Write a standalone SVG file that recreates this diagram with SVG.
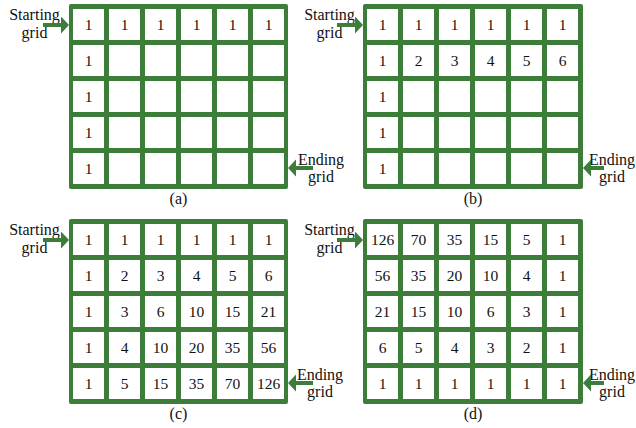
<svg xmlns="http://www.w3.org/2000/svg" width="636" height="428" viewBox="0 0 636 428" font-family="'Liberation Serif', 'Times New Roman', 'DejaVu Serif', serif">
<defs>
<style>
.bg{fill:#3c7d3a}
.c{fill:#ffffff}
.t{font-family:'Liberation Serif','Times New Roman','DejaVu Serif',serif;font-size:16px;fill:#111;text-anchor:middle}
.n{font-size:15.5px}
.arr{stroke:#3c7d3a;stroke-width:4;fill:none}
</style>
<marker id="ah" markerUnits="userSpaceOnUse" markerWidth="9" markerHeight="18" refX="0" refY="8.5" orient="auto">
<path d="M0,0 L8,8.5 L0,17 Z" fill="#3c7d3a"/>
</marker>
<g id="cells">
<rect class="c" x="4" y="5" width="31" height="31"/><rect class="c" x="40" y="5" width="31" height="31"/><rect class="c" x="76" y="5" width="31" height="31"/><rect class="c" x="112" y="5" width="31" height="31"/><rect class="c" x="148" y="5" width="31" height="31"/><rect class="c" x="184" y="5" width="31" height="31"/>
<rect class="c" x="4" y="41" width="31" height="31"/><rect class="c" x="40" y="41" width="31" height="31"/><rect class="c" x="76" y="41" width="31" height="31"/><rect class="c" x="112" y="41" width="31" height="31"/><rect class="c" x="148" y="41" width="31" height="31"/><rect class="c" x="184" y="41" width="31" height="31"/>
<rect class="c" x="4" y="77" width="31" height="31"/><rect class="c" x="40" y="77" width="31" height="31"/><rect class="c" x="76" y="77" width="31" height="31"/><rect class="c" x="112" y="77" width="31" height="31"/><rect class="c" x="148" y="77" width="31" height="31"/><rect class="c" x="184" y="77" width="31" height="31"/>
<rect class="c" x="4" y="113" width="31" height="31"/><rect class="c" x="40" y="113" width="31" height="31"/><rect class="c" x="76" y="113" width="31" height="31"/><rect class="c" x="112" y="113" width="31" height="31"/><rect class="c" x="148" y="113" width="31" height="31"/><rect class="c" x="184" y="113" width="31" height="31"/>
<rect class="c" x="4" y="149" width="31" height="31"/><rect class="c" x="40" y="149" width="31" height="31"/><rect class="c" x="76" y="149" width="31" height="31"/><rect class="c" x="112" y="149" width="31" height="31"/><rect class="c" x="148" y="149" width="31" height="31"/><rect class="c" x="184" y="149" width="31" height="31"/>
</g>
</defs>

<g id="grid-a">
<rect class="bg" x="69" y="4" width="219" height="185" rx="2"/>
<use href="#cells" x="69" y="4"/>
<g class="t n">
<text x="88.5" y="30">1</text><text x="124.5" y="30">1</text><text x="160.5" y="30">1</text><text x="196.5" y="30">1</text><text x="232.5" y="30">1</text><text x="268.5" y="30">1</text>
<text x="88.5" y="66">1</text>
<text x="88.5" y="102">1</text>
<text x="88.5" y="138">1</text>
<text x="88.5" y="174">1</text>
</g>
</g>

<g id="grid-b">
<rect class="bg" x="363" y="4" width="220" height="185" rx="2"/>
<use href="#cells" x="363" y="4"/>
<g class="t n">
<text x="382.5" y="30">1</text><text x="418.5" y="30">1</text><text x="454.5" y="30">1</text><text x="490.5" y="30">1</text><text x="526.5" y="30">1</text><text x="562.5" y="30">1</text>
<text x="382.5" y="66">1</text><text x="418.5" y="66">2</text><text x="454.5" y="66">3</text><text x="490.5" y="66">4</text><text x="526.5" y="66">5</text><text x="562.5" y="66">6</text>
<text x="382.5" y="102">1</text>
<text x="382.5" y="138">1</text>
<text x="382.5" y="174">1</text>
</g>
</g>

<g id="grid-c">
<rect class="bg" x="69" y="219" width="219" height="185" rx="2"/>
<use href="#cells" x="69" y="219"/>
<g class="t n">
<text x="88.5" y="245">1</text><text x="124.5" y="245">1</text><text x="160.5" y="245">1</text><text x="196.5" y="245">1</text><text x="232.5" y="245">1</text><text x="268.5" y="245">1</text>
<text x="88.5" y="281">1</text><text x="124.5" y="281">2</text><text x="160.5" y="281">3</text><text x="196.5" y="281">4</text><text x="232.5" y="281">5</text><text x="268.5" y="281">6</text>
<text x="88.5" y="317">1</text><text x="124.5" y="317">3</text><text x="160.5" y="317">6</text><text x="196.5" y="317">10</text><text x="232.5" y="317">15</text><text x="268.5" y="317">21</text>
<text x="88.5" y="353">1</text><text x="124.5" y="353">4</text><text x="160.5" y="353">10</text><text x="196.5" y="353">20</text><text x="232.5" y="353">35</text><text x="268.5" y="353">56</text>
<text x="88.5" y="389">1</text><text x="124.5" y="389">5</text><text x="160.5" y="389">15</text><text x="196.5" y="389">35</text><text x="232.5" y="389">70</text><text x="268.5" y="389">126</text>
</g>
</g>

<g id="grid-d">
<rect class="bg" x="363" y="219" width="220" height="185" rx="2"/>
<use href="#cells" x="363" y="219"/>
<g class="t n">
<text x="382.5" y="245">126</text><text x="418.5" y="245">70</text><text x="454.5" y="245">35</text><text x="490.5" y="245">15</text><text x="526.5" y="245">5</text><text x="562.5" y="245">1</text>
<text x="382.5" y="281">56</text><text x="418.5" y="281">35</text><text x="454.5" y="281">20</text><text x="490.5" y="281">10</text><text x="526.5" y="281">4</text><text x="562.5" y="281">1</text>
<text x="382.5" y="317">21</text><text x="418.5" y="317">15</text><text x="454.5" y="317">10</text><text x="490.5" y="317">6</text><text x="526.5" y="317">3</text><text x="562.5" y="317">1</text>
<text x="382.5" y="353">6</text><text x="418.5" y="353">5</text><text x="454.5" y="353">4</text><text x="490.5" y="353">3</text><text x="526.5" y="353">2</text><text x="562.5" y="353">1</text>
<text x="382.5" y="389">1</text><text x="418.5" y="389">1</text><text x="454.5" y="389">1</text><text x="490.5" y="389">1</text><text x="526.5" y="389">1</text><text x="562.5" y="389">1</text>
</g>
</g>

<g id="labels" class="t">
<text x="34.5" y="20">Starting</text><text x="34.5" y="38">grid</text>
<text x="329.5" y="20">Starting</text><text x="329.5" y="38">grid</text>
<text x="34.5" y="235">Starting</text><text x="34.5" y="253">grid</text>
<text x="329.5" y="235">Starting</text><text x="329.5" y="253">grid</text>
<text x="321" y="165">Ending</text><text x="321" y="182">grid</text>
<text x="612" y="165">Ending</text><text x="612" y="182">grid</text>
<text x="320" y="380">Ending</text><text x="320" y="397">grid</text>
<text x="612" y="380">Ending</text><text x="612" y="397">grid</text>
<text x="178.5" y="204">(a)</text>
<text x="473" y="204">(b)</text>
<text x="178.5" y="419">(c)</text>
<text x="473" y="419">(d)</text>
</g>

<g id="connectors">
<line class="arr" x1="43" y1="25" x2="61" y2="25" marker-end="url(#ah)"/>
<line class="arr" x1="337" y1="25" x2="355" y2="25" marker-end="url(#ah)"/>
<line class="arr" x1="43" y1="240" x2="61" y2="240" marker-end="url(#ah)"/>
<line class="arr" x1="337" y1="240" x2="355" y2="240" marker-end="url(#ah)"/>
<line class="arr" x1="313" y1="168" x2="296" y2="168" marker-end="url(#ah)"/>
<line class="arr" x1="604" y1="168" x2="591" y2="168" marker-end="url(#ah)"/>
<line class="arr" x1="313" y1="383" x2="296" y2="383" marker-end="url(#ah)"/>
<line class="arr" x1="604" y1="383" x2="591" y2="383" marker-end="url(#ah)"/>
</g>
</svg>
